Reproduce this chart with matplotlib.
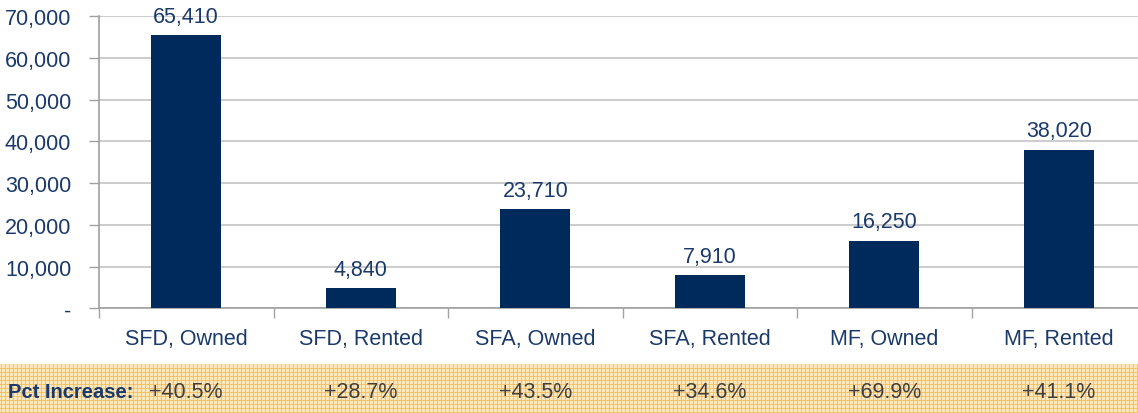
import matplotlib
matplotlib.use("Agg")
import matplotlib.pyplot as plt
import numpy as np
from matplotlib import font_manager
from matplotlib.patches import Rectangle

names = {f.name for f in font_manager.fontManager.ttflist}
fam = ['Liberation Sans Narrow'] if 'Liberation Sans Narrow' in names else ['Liberation Sans']
plt.rcParams['font.family'] = fam + ['DejaVu Sans']

categories = ["SFD, Owned", "SFD, Rented", "SFA, Owned", "SFA, Rented", "MF, Owned", "MF, Rented"]
values = [65410, 4840, 23710, 7910, 16250, 38020]
pct_increase = ["+40.5%", "+28.7%", "+43.5%", "+34.6%", "+69.9%", "+41.1%"]
yticks = [0, 10000, 20000, 30000, 40000, 50000, 60000, 70000]
ytick_labels = ["-", "10,000", "20,000", "30,000", "40,000", "50,000", "60,000", "70,000"]

navy = '#002a5c'
label_col = '#1b3a6b'
W, H = 1138, 414
fig = plt.figure(figsize=(W/100, H/100), dpi=100)

# bottom strip with fine grid texture
strip = fig.add_axes([0, 0, 1, 49/H])
strip.set_xlim(0, W); strip.set_ylim(0, 49)
strip.axis('off')
strip.add_patch(Rectangle((0, 0), W, 49, facecolor='#fce7bb', edgecolor='none'))
for xx in np.arange(1, W, 4):
    strip.axvline(xx, color='#f3b94f', lw=0.7, alpha=0.75)
for yy in np.arange(1, 49, 4):
    strip.axhline(yy, color='#f3b94f', lw=0.7, alpha=0.75)

ax = fig.add_axes([99/W, 104.7/H, 1047/W, 292/H])
x = np.arange(len(categories))
ax.bar(x, values, width=0.4, color=navy, zorder=3)
ax.set_xlim(-0.5, len(categories) - 0.5)
ax.set_ylim(0, 70000)
ax.set_yticks(yticks)
ax.set_yticklabels(ytick_labels, fontsize=15.5, color=label_col)
ax.yaxis.grid(True, color='#c4c4c4', lw=1.2, zorder=0)
ax.set_axisbelow(True)
ax.tick_params(axis='y', length=7, width=1, color='#a0a0a0', pad=13)

ax.set_xticks(np.arange(len(categories) + 1) - 0.5, minor=False)
ax.set_xticklabels([])
ax.tick_params(axis='x', which='major', length=7, width=1, color='#a0a0a0')
ax.set_xticks(x, minor=True)
ax.set_xticklabels(categories, minor=True, fontsize=15.5, color=label_col)
ax.tick_params(axis='x', which='minor', length=0, pad=14)

for s in ['top', 'right']:
    ax.spines[s].set_visible(False)
ax.spines['left'].set_color('#a0a0a0')
ax.spines['bottom'].set_color('#a0a0a0')
ax.spines['left'].set_linewidth(1.2)
ax.spines['bottom'].set_linewidth(1.2)

for xi, v in zip(x, values):
    ax.annotate(f"{v:,}", (xi, v), xytext=(0, 6), textcoords='offset points',
                ha='center', va='bottom', fontsize=15.5, color=label_col, zorder=4)

# pct increase row
fig.text(8/W, 21/H, "Pct Increase:", fontsize=14.5, fontweight='bold', color=label_col,
         ha='left', va='center')
for xi, p in zip(x, pct_increase):
    xf = ax.transData.transform((xi, 0))[0] / fig.bbox.width
    fig.text(xf, 21/H, p, fontsize=15.5, color='#404040', ha='center', va='center')

fig.savefig('out.png', dpi=100)
